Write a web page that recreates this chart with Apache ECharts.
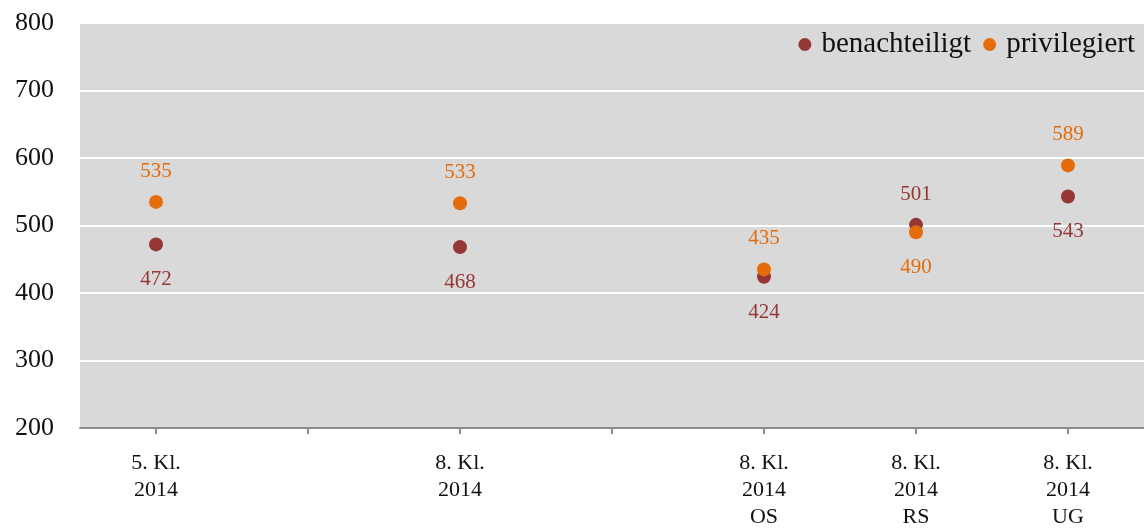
<!DOCTYPE html>
<html>
<head>
<meta charset="utf-8">
<script src="https://cdn.jsdelivr.net/npm/echarts@6/dist/echarts.min.js"></script>
<style>
  html, body { margin: 0; padding: 0; background: #fff; }
  #main { width: 1144px; height: 528px; }
</style>
</head>
<body>
<div id="main"></div>
<script>
// Kategorien (leere Einträge = Lücken auf der Achse)
var categories = ['5. Kl.\n2014', '', '8. Kl.\n2014', '', '8. Kl.\n2014\nOS', '8. Kl.\n2014\nRS', '8. Kl.\n2014\nUG'];
var benachteiligt = [472, null, 468, null, 424, 501, 543];
var privilegiert = [535, null, 533, null, 435, 490, 589];
// Beschriftung oben/unten je Punkt
var posBenach = ['bottom', null, 'bottom', null, 'bottom', 'top', 'bottom'];
var posPriv = ['top', null, 'top', null, 'top', 'bottom', 'top'];

var serif = '"Liberation Serif", "DejaVu Serif", serif';

function pts(values, positions) {
  return values.map(function (v, i) {
    if (v === null) return null;
    var p = positions[i];
    return { value: v, label: { position: p, distance: p === 'top' ? 13 : 18 } };
  });
}

var myChart = echarts.init(document.getElementById('main'));

var option = {
  backgroundColor: '#ffffff',
  textStyle: { fontFamily: serif },
  legend: {
    data: ['benachteiligt', 'privilegiert'],
    right: 4,
    top: 25,
    icon: 'circle',
    itemWidth: 13,
    itemHeight: 13,
    itemGap: 12,
    textStyle: { fontFamily: serif, fontSize: 29, color: '#111', padding: [0, 0, 0, 5] }
  },
  grid: {
    left: 80,
    right: 0,
    top: 23,
    bottom: 100,
    outerBoundsMode: 'none',
    containLabel: false,
    show: true,
    backgroundColor: '#d9d9d9',
    borderWidth: 0
  },
  xAxis: {
    type: 'category',
    data: categories,
    boundaryGap: true,
    axisLine: { lineStyle: { color: '#8c8c8c', width: 2 } },
    axisTick: { show: true, alignWithLabel: true, interval: 0, length: 6, lineStyle: { color: '#8c8c8c', width: 2 } },
    axisLabel: {
      interval: 0,
      fontFamily: serif,
      fontSize: 22,
      lineHeight: 27,
      color: '#111',
      margin: 22
    }
  },
  yAxis: {
    type: 'value',
    min: 200,
    max: 800,
    interval: 100,
    axisLine: { show: false },
    axisTick: { show: false },
    axisLabel: { fontFamily: serif, fontSize: 26, color: '#111', margin: 26 },
    splitLine: { lineStyle: { color: '#ffffff', width: 2 } }
  },
  series: [
    {
      name: 'benachteiligt',
      type: 'scatter',
      symbolSize: 14,
      itemStyle: { color: '#953735', opacity: 1 },
      label: { show: true, fontFamily: serif, fontSize: 21, color: '#953735' },
      data: pts(benachteiligt, posBenach)
    },
    {
      name: 'privilegiert',
      type: 'scatter',
      symbolSize: 14,
      itemStyle: { color: '#e46c0a', opacity: 1 },
      label: { show: true, fontFamily: serif, fontSize: 21, color: '#e46c0a' },
      data: pts(privilegiert, posPriv)
    }
  ]
};

myChart.setOption(option);
</script>
</body>
</html>
